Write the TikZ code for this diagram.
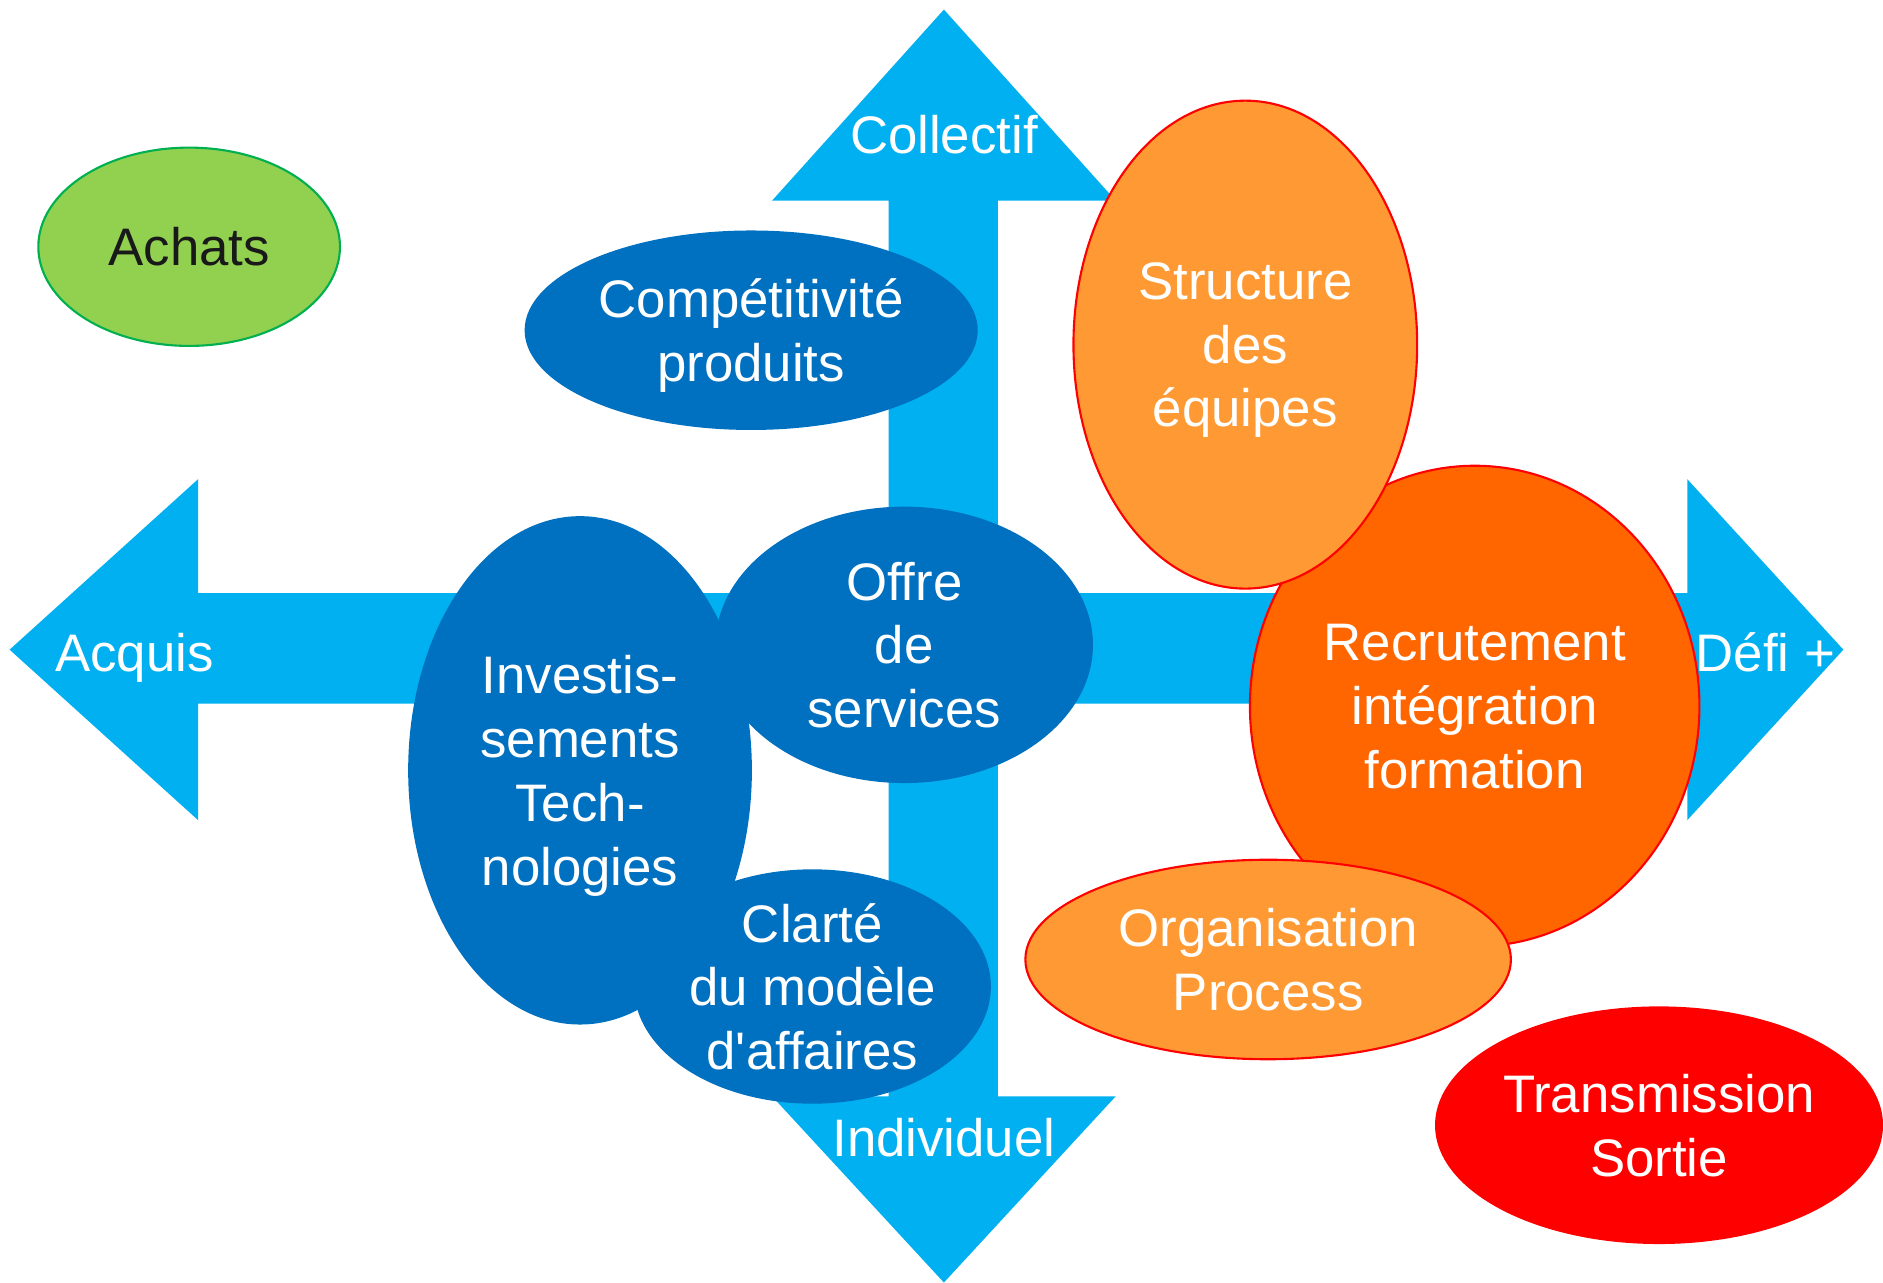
\documentclass[tikz,border=0pt]{standalone}
\usepackage{fontspec}
\setmainfont{Liberation Sans}[Ligatures=TeXOff]
\usetikzlibrary{shapes.geometric}
\definecolor{skyarrow}{HTML}{00B0F0}
\definecolor{deepblue}{HTML}{0070C0}
\definecolor{leafgreen}{HTML}{92D050}
\definecolor{leafedge}{HTML}{00B050}
\definecolor{lightorange}{HTML}{FF9933}
\definecolor{darkorange}{HTML}{FF6600}
\definecolor{alertred}{HTML}{FF0000}
\tikzset{
  bigfont/.style={font=\fontsize{12.5pt}{15.1pt}\selectfont},
  oval/.style 2 args={ellipse, inner sep=-4pt, outer sep=0pt, align=center, text=white, bigfont,
    text depth=-2.3pt, minimum width=#1*0.02cm, minimum height=#2*0.02cm},
  bluebox/.style={fill=deepblue},
  orangebox/.style={fill=lightorange, draw=alertred, line width=0.5pt},
  axislbl/.style={text=white, inner sep=0pt, text depth=0pt, bigfont},
}

\begin{document}
\begin{tikzpicture}[x=0.01cm,y=-0.01cm]
\useasboundingbox (0,0) rectangle (1568,1068);
% the two arrows
\fill[skyarrow] (786,8) -- (929,167) -- (831,167) -- (831,913) -- (929,913) -- (786,1068)
  -- (643,913) -- (740,913) -- (740,167) -- (643,167) -- cycle;
\fill[skyarrow] (8,541) -- (165,399) -- (165,494) -- (1405,494) -- (1405,399) -- (1535,541)
  -- (1405,683) -- (1405,586) -- (165,586) -- (165,683) -- cycle;
% the ovals
\node[oval={125.5}{82.5}, fill=leafgreen, draw=leafedge, line width=0.5pt, text=black!90] (achats) at (157.5,205.5) {Achats};
\node[oval={188.5}{83}, bluebox] (compet) at (625.5,275) {Compétitivité\\produits};
\node[oval={143}{211.5}, bluebox] (invest) at (483,641.5) {Investis-\\sements\\Tech-\\nologies};
\node[oval={157}{115}, bluebox] (offre) at (753,537) {Offre\\de\\services};
\node[oval={148.5}{97.5}, bluebox] (clarte) at (676.5,821.5) {Clarté\\du modèle\\d'affaires};
\node[oval={187}{200}, fill=darkorange, draw=alertred, line width=0.5pt] (recrut) at (1228,588) {Recrutement\\intégration\\formation};
\node[oval={143}{203}, orangebox] (structure) at (1037,287) {Structure\\des\\équipes};
\node[oval={202}{83}, orangebox] (orga) at (1056,799) {Organisation\\Process};
\node[oval={185.5}{98}, fill=alertred, draw=alertred, line width=0.5pt] (transm) at (1381.5,937) {Transmission\\Sortie};
% labels on the arrows
\foreach \pos/\name/\txt in {{(786,112)}/collectif/Collectif, {(112,543)}/acquis/Acquis,
  {(1470,543)}/defi/Défi +, {(786,947)}/individuel/Individuel}
  \node[axislbl] (\name) at \pos {\txt};
\end{tikzpicture}
\end{document}
